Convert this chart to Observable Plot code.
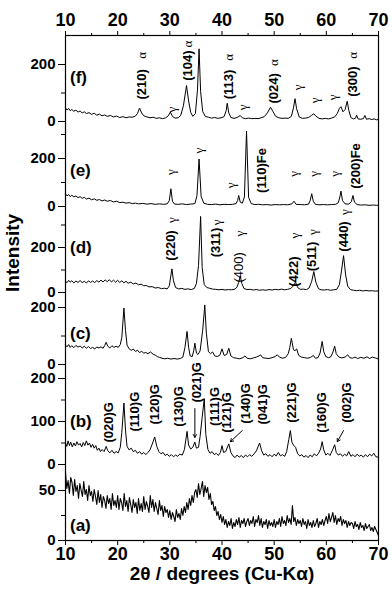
<!DOCTYPE html>
<html><head><meta charset="utf-8">
<script src="https://cdn.jsdelivr.net/npm/d3@7"></script>
<script src="https://cdn.jsdelivr.net/npm/@observablehq/plot@0.6"></script>
<style>body{margin:0;background:#fff} svg{display:block}</style>
</head><body><div id="chart"></div>
<script>
// ---- data: intensity (counts) vs 2theta (degrees) ----
const scanAStart = 10, scanAStep = 0.25;
const scanA = [
68,52,60,47,63,58,45,61,49,55,42,57,50,44,59,46,51,40,55,45,
49,39,51,44,36,50,38,46,33,44,40,32,45,37,42,31,47,35,40,33,
45,31,42,38,30,47,34,40,29,43,36,28,41,33,38,27,42,30,37,29,
44,31,39,34,28,45,33,41,29,38,32,26,40,30,35,24,34,28,31,23,
30,21,28,24,19,31,23,27,21,32,25,34,28,38,31,42,35,45,38,48,
51,43,57,46,52,59,44,55,48,53,41,47,36,39,30,34,25,29,21,26,
18,24,16,21,13,19,15,22,12,18,14,21,16,23,13,20,17,22,14,19,
22,15,20,17,24,14,21,18,25,15,22,13,19,16,21,12,20,15,18,14,
21,13,19,16,22,14,24,17,20,15,25,18,22,16,35,19,23,15,21,17,
20,14,22,16,19,12,21,15,18,13,20,14,17,22,13,19,16,21,15,20,
24,17,27,19,23,28,18,25,16,22,19,24,15,21,17,20,13,19,15,18,
17,12,19,14,16,11,18,13,15,10,17,12,14,16,10,13,9,14,11,8,
5];

const scanB = [[10,50],[10.25,42],[10.5,55],[10.75,44],[11,52],[11.3,41],[11.6,50],[11.9,43],[12.2,53],[12.5,45],[12.8,49],[13.1,41],[13.4,51],[13.7,44],[14,55],[14.3,45],[14.6,50],[14.9,40],[15.2,47],[15.5,38],[15.8,44],[16.1,33],[16.4,38],[16.7,30],[17,35],[17.4,30],[17.8,42],[18.1,32],[18.5,27],[18.9,33],[19.3,26],[19.7,30],[20.1,27],[20.5,40],[20.8,75],[21.2,143],[21.5,80],[21.8,42],[22.2,34],[22.6,38],[23,30],[23.4,33],[23.8,26],[24.2,30],[24.6,24],[25,28],[25.4,23],[25.8,28],[26.2,34],[26.7,50],[27.1,64],[27.5,42],[27.9,30],[28.3,25],[28.7,28],[29.1,21],[29.5,24],[29.9,19],[30.3,23],[30.7,18],[31.1,22],[31.5,19],[31.9,24],[32.4,22],[32.8,35],[33.3,77],[33.6,45],[34,36],[34.4,40],[34.8,52],[35.1,38],[35.5,40],[35.8,65],[36.2,110],[36.6,153],[36.9,70],[37.3,35],[37.7,26],[38.1,30],[38.5,23],[38.9,26],[39.3,21],[39.7,28],[40.0,44],[40.3,28],[40.7,30],[41.3,48],[41.7,28],[42.1,20],[42.5,16],[42.9,22],[43.3,17],[43.7,21],[44.1,16],[44.5,22],[44.9,18],[45.3,23],[45.7,19],[46.1,24],[46.6,32],[47.2,50],[47.6,32],[48,22],[48.4,25],[48.8,19],[49.2,23],[49.6,18],[50,24],[50.4,20],[50.8,28],[51.2,20],[51.6,23],[52,19],[52.4,30],[52.8,58],[53.1,79],[53.4,52],[53.7,45],[54.1,40],[54.5,25],[54.9,20],[55.3,23],[55.7,17],[56.1,21],[56.5,16],[56.9,22],[57.3,18],[57.7,25],[58.1,20],[58.5,26],[58.9,36],[59.2,53],[59.5,34],[59.9,22],[60.3,26],[60.7,21],[61.2,34],[61.6,46],[61.9,28],[62.3,22],[62.7,25],[63.1,19],[63.5,24],[63.9,20],[64.3,30],[64.7,19],[65.1,23],[65.5,18],[65.9,24],[66.3,19],[66.7,22],[67.1,17],[67.5,23],[67.9,18],[68.3,24],[68.7,20],[69.1,26],[69.5,18],[70,17]];

const scanC = [[10,68],[10.3,62],[10.6,70],[10.9,60],[11.2,66],[11.6,59],[12,67],[12.4,61],[12.8,65],[13.2,58],[13.6,64],[14,57],[14.4,63],[14.8,56],[15.2,60],[15.6,55],[16,61],[16.4,58],[16.8,62],[17.2,57],[17.5,66],[17.8,78],[18.1,64],[18.5,58],[18.9,66],[19.3,60],[19.7,64],[20.1,60],[20.5,70],[20.8,95],[21.2,198],[21.5,120],[21.8,68],[22.2,55],[22.6,50],[23,54],[23.4,46],[23.8,50],[24.2,42],[24.6,46],[25,40],[25.4,42],[25.8,38],[26.3,44],[26.8,36],[27.2,33],[27.6,28],[28,25],[28.5,22],[29,20],[29.6,22],[30.2,19],[30.8,21],[31.4,19],[32,21],[32.5,26],[32.9,60],[33.3,116],[33.6,60],[33.9,30],[34.3,28],[34.6,50],[34.8,75],[35.1,40],[35.4,35],[35.8,48],[36.3,120],[36.7,209],[37.0,110],[37.4,45],[37.8,38],[38.2,44],[38.6,30],[39.1,28],[39.6,33],[40.0,55],[40.4,32],[40.9,35],[41.3,57],[41.7,30],[42.2,24],[42.8,22],[43.4,20],[44,24],[44.4,30],[44.8,22],[45.4,20],[46,23],[46.6,26],[47.1,30],[47.4,34],[47.8,24],[48.4,22],[49,21],[49.6,24],[50.2,28],[50.6,34],[51,26],[51.6,22],[52.2,25],[52.7,38],[53.0,60],[53.3,92],[53.7,52],[54.0,48],[54.3,55],[54.7,32],[55.2,26],[55.8,24],[56.4,22],[57,25],[57.5,32],[57.9,22],[58.4,24],[58.8,40],[59.2,81],[59.5,45],[59.9,28],[60.4,24],[60.8,26],[61.2,40],[61.6,64],[61.9,38],[62.4,26],[63,23],[63.6,26],[64.1,34],[64.5,24],[65,22],[65.5,26],[66,21],[66.6,25],[67.2,22],[67.8,27],[68.3,21],[68.8,26],[69.4,23],[70,19]];

const scanD = [[10,50],[10.3,44],[10.6,54],[10.9,46],[11.2,52],[11.6,43],[12,51],[12.4,45],[12.8,53],[13.2,44],[13.6,50],[14,42],[14.4,52],[14.8,45],[15.2,51],[15.6,44],[16,53],[16.4,46],[16.8,55],[17.2,47],[17.6,56],[18,48],[18.4,57],[18.8,47],[19.2,55],[19.6,46],[20,54],[20.4,45],[20.8,52],[21.2,43],[21.6,50],[22,41],[22.5,46],[23,38],[23.5,42],[24,34],[24.5,37],[25,30],[25.5,31],[26,25],[26.6,26],[27.2,20],[27.8,22],[28.4,17],[29,19],[29.5,16],[29.9,30],[30.1,60],[30.4,105],[30.7,52],[31.1,22],[31.7,16],[32.3,18],[32.9,14],[33.5,16],[34.1,13],[34.7,18],[35.1,40],[35.5,120],[35.9,338],[36.2,110],[36.6,35],[37.1,22],[37.6,19],[38.2,15],[38.8,14],[39.4,12],[40,14],[40.6,11],[41.2,13],[41.8,12],[42.5,15],[42.9,25],[43.2,45],[43.5,73],[43.8,40],[44.2,18],[44.8,13],[45.4,14],[46,11],[46.6,13],[47.2,10],[47.8,12],[48.4,10],[49,13],[49.6,11],[50.2,14],[50.8,12],[51.4,15],[52,12],[52.6,14],[53.2,18],[53.6,28],[54.1,46],[54.5,22],[55,14],[55.6,15],[56.2,13],[56.7,20],[57.2,50],[57.6,93],[58,45],[58.5,17],[59,12],[59.6,11],[60.2,13],[60.8,10],[61.4,12],[62,14],[62.5,35],[62.9,95],[63.3,164],[63.7,78],[64.1,28],[64.6,13],[65.2,10],[65.8,8],[66.4,10],[67,7],[67.6,9],[68.2,7],[68.8,8],[69.4,6],[70,7]];

const scanE = [[10,52],[10.3,44],[10.6,50],[10.9,41],[11.2,47],[11.6,40],[12,44],[12.4,37],[12.8,41],[13.2,34],[13.6,38],[14,31],[14.5,35],[15,28],[15.5,32],[16,26],[16.5,29],[17,23],[17.5,27],[18,22],[18.6,25],[19.2,19],[19.8,22],[20.4,16],[21,18],[21.6,14],[22.2,16],[22.8,12],[23.4,14],[24,11],[24.8,13],[25.6,10],[26.4,12],[27.2,9],[28,11],[28.8,9],[29.5,11],[29.9,25],[30.2,74],[30.5,22],[30.9,10],[31.6,9],[32.4,11],[33.2,8],[34,10],[34.8,12],[35.2,45],[35.6,198],[36.0,42],[36.5,14],[37.2,9],[38,8],[38.8,10],[39.6,7],[40.4,9],[41.2,8],[42,9],[42.7,12],[43.0,25],[43.2,46],[43.5,18],[43.9,14],[44.3,40],[44.7,314],[45.1,38],[45.6,12],[46.3,8],[47,9],[47.8,7],[48.6,8],[49.4,6],[50.2,8],[51,7],[51.8,8],[52.6,7],[53.4,11],[53.8,22],[54.2,9],[55,8],[55.8,7],[56.6,10],[56.9,25],[57.2,53],[57.5,22],[57.9,9],[58.6,7],[59.4,8],[60.2,7],[61,8],[61.8,9],[62.3,16],[62.6,40],[62.8,64],[63.1,25],[63.6,11],[64.3,10],[64.8,20],[65.1,46],[65.4,18],[65.9,8],[66.6,6],[67.4,7],[68.2,5],[69,6],[69.6,5],[70,5]];

const scanF = [[10,48],[10.3,40],[10.6,46],[10.9,38],[11.2,42],[11.6,36],[12,40],[12.4,33],[12.8,37],[13.2,30],[13.6,34],[14,28],[14.5,31],[15,25],[15.5,29],[16,22],[16.5,26],[17,20],[17.5,23],[18,18],[18.6,21],[19.2,16],[19.8,19],[20.4,14],[21,17],[21.6,13],[22.2,16],[22.8,15],[23.4,19],[23.8,28],[24.2,47],[24.6,30],[25,20],[25.6,16],[26.2,13],[26.8,15],[27.4,11],[28,13],[28.6,10],[29.2,13],[29.7,20],[30.1,33],[30.5,18],[31,12],[31.6,13],[32.1,22],[32.6,55],[33.2,126],[33.6,72],[34,32],[34.4,18],[34.9,28],[35.3,110],[35.6,255],[35.9,105],[36.3,35],[36.8,18],[37.4,15],[38,12],[38.6,14],[39.2,11],[39.8,13],[40.4,17],[40.8,38],[41.0,64],[41.3,30],[41.7,14],[42.3,11],[42.9,14],[43.5,21],[43.9,13],[44.5,10],[45.1,12],[45.7,10],[46.3,11],[46.9,10],[47.5,13],[48.1,17],[48.7,30],[49.3,50],[49.8,34],[50.3,18],[50.9,13],[51.5,11],[52.1,12],[52.7,11],[53.3,18],[53.7,48],[54.0,80],[54.3,45],[54.8,16],[55.4,11],[56,12],[56.6,14],[57.2,22],[57.6,27],[58,19],[58.6,11],[59.2,9],[59.8,11],[60.4,9],[61,12],[61.6,16],[62.1,28],[62.5,46],[62.8,52],[63.2,34],[63.6,42],[64.0,71],[64.3,40],[64.7,14],[65.2,9],[65.6,12],[65.8,22],[66.1,9],[66.6,8],[67.1,10],[67.4,21],[67.7,8],[68.2,10],[68.7,7],[69.2,9],[69.6,6],[70,7]];

// annotations: [text, 2theta, intensity level in that panel]
const hklF = [["(210)",24.7,130],["(104)",33.4,196],["(113)",41.3,130],["(024)",49.9,116],["(300)",65.1,140]];
const greekF = [["α",24.7,232],["α",33.4,272],["α",41.3,225],["α",49.9,207],["α",65.1,232],
  ["γ",30.4,42],["γ",43.9,50],["γ",54.6,120],["γ",57.7,74],["γ",61.3,85]];
const hklE = [["(110)Fe",47.7,150],["(200)Fe",65.6,169]];
const greekE = [["γ",30.2,143],["γ",35.6,233],["γ",41.7,88],["γ",53.8,136],["γ",57.6,136],["γ",61.6,136]];
const hklD = [["(220)",30.1,209],["(311)",38.9,222],["(422)",53.8,93],["(511)",57.3,160],["(440)",63.3,249]];
const hklDLight = [["(400)",43.2,112]];
const greekD = [["γ",30.3,322],["γ",39.1,312],["γ",43.4,262],["γ",54.0,253],["γ",57.5,268],["γ",63.5,357]];
const hklB = [["(020)G",18.3,98],["(110)G",23.2,123],["(120)G",27.1,140],["(130)G",31.7,135],["(021)G",35.2,191],["(111)G",38.6,135],["(121)G",41.0,121],["(140)G",44.5,142],["(041)G",47.9,140],["(221)G",53.3,144],["(160)G",59.2,121],["(002)G",63.9,144]];
const arrowsB = [[34.8,130,34.8,63],[43.9,79,41.6,53],[63.3,79,62.1,53]];
const panelNames = [["(a)","a",15],["(b)","b",100],["(c)","c",109],["(d)","d",201],["(e)","e",150],["(f)","f",154]];
const yTickLabels = {a:[0,50], b:[0,100,200], c:[0,200], d:[0,200], e:[0,200], f:[0,200]};
const yTickMinor = {a:[25], b:[50,150], c:[100], d:[100,300], e:[100,300], f:[100]};
const xTicks = [10,20,30,40,50,60,70];
const xMinor = [15,25,35,45,55,65];

// ---- layout: vertical offset and scale of each stacked panel ----
const layout = {a:{base:0,k:1.0}, b:{base:76,k:0.43}, c:{base:176,k:0.285}, d:{base:248,k:0.225}, e:{base:334,k:0.24}, f:{base:419,k:0.285}};
const V = (p, I) => layout[p].base + layout[p].k * I;

const majorV = [], labelMap = new Map(), minorV = [];
for (const p of Object.keys(layout)) {
  for (const t of yTickLabels[p]) { const v = V(p,t); majorV.push(v); labelMap.set(v.toFixed(2), String(t)); }
  for (const t of yTickMinor[p]) minorV.push(V(p,t));
}

const ann = (arr, p) => arr.map(([t,x,I]) => ({t, x, v: V(p,I)}));
const boldLabels = [...ann(hklF,"f"), ...ann(hklE,"e"), ...ann(hklD,"d"), ...ann(hklB,"b")];
const lightLabels = ann(hklDLight,"d");
const greek = [...ann(greekF,"f"), ...ann(greekE,"e"), ...ann(greekD,"d")];
const arrows = arrowsB.map(([x1,I1,x2,I2]) => ({x1, y1: V("b",I1), x2, y2: V("b",I2)}));
const names = panelNames.map(([t,p,I]) => ({t, v: V(p,I)}));

const line = (data, p) => Plot.line(data, {x: d => d[0], y: d => V(p, d[1]), stroke: "black", strokeWidth: 1});

const chart = Plot.plot({
  width: 392, height: 605,
  marginLeft: 65, marginRight: 14, marginTop: 35, marginBottom: 65,
  x: {domain: [10, 70]},
  y: {domain: [0, 505]},
  style: {fontFamily: "'Liberation Sans', Arial, sans-serif", fontWeight: "bold", background: "white", color: "black", overflow: "visible"},
  marks: [
    Plot.frame({stroke: "black", strokeWidth: 1.2}),
    Plot.line(scanA, {x: (d,i) => scanAStart + scanAStep*i, y: d => V("a", d), stroke: "black", strokeWidth: 1.1}),
    line(scanB,"b"), line(scanC,"c"), line(scanD,"d"), line(scanE,"e"), line(scanF,"f"),
    Plot.axisX({anchor: "top", ticks: xTicks, tickSize: 5, tickPadding: 5, fontSize: 18, fontWeight: "bold", label: null}),
    Plot.axisX({anchor: "top", ticks: xMinor, tickSize: 3, tickFormat: () => "", label: null}),
    Plot.axisX({anchor: "bottom", ticks: xTicks, tickSize: 5, tickPadding: 2, fontSize: 18, fontWeight: "bold", label: null}),
    Plot.axisX({anchor: "bottom", ticks: xMinor, tickSize: 3, tickFormat: () => "", label: null}),
    Plot.axisY({ticks: majorV, tickSize: 7, tickPadding: 3, fontSize: 15, fontWeight: "bold", tickFormat: v => labelMap.get(v.toFixed(2)), label: null}),
    Plot.axisY({ticks: minorV, tickSize: 4, tickFormat: () => "", label: null}),
    Plot.text(boldLabels, {x: "x", y: "v", text: "t", rotate: -90, fontSize: 13, fontWeight: "bold", textAnchor: "middle", lineAnchor: "middle"}),
    Plot.text(lightLabels, {x: "x", y: "v", text: "t", rotate: -90, fontSize: 13, fontWeight: "normal", textAnchor: "middle", lineAnchor: "middle"}),
    Plot.text(greek, {x: "x", y: "v", text: "t", rotate: -90, fontSize: 13, fontWeight: "normal", fontFamily: "'Liberation Serif', serif", textAnchor: "middle", lineAnchor: "middle"}),
    Plot.arrow(arrows, {x1: "x1", y1: "y1", x2: "x2", y2: "y2", stroke: "black", strokeWidth: 1, headLength: 5}),
    Plot.text(names, {x: 10.86, y: "v", text: "t", fontSize: 17, fontWeight: "bold", textAnchor: "start", lineAnchor: "middle"}),
    Plot.text(["2θ / degrees (Cu-Kα)"], {frameAnchor: "bottom", dy: 33, fontSize: 19, fontWeight: "bold", lineAnchor: "middle"}),
    Plot.text(["Intensity"], {frameAnchor: "left", dx: -53, dy: 4, rotate: -90, fontSize: 19, fontWeight: "bold", lineAnchor: "middle"})
  ]
});
document.getElementById("chart").appendChild(chart);
</script>
</body></html>
